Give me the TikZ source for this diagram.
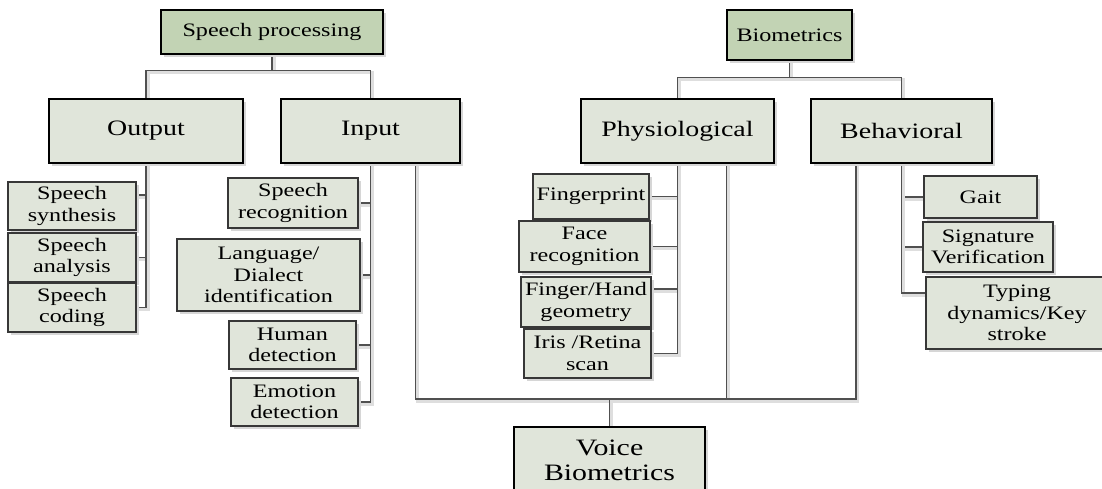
\documentclass[tikz,border=0pt]{standalone}
\usepackage{fontspec}
\setmainfont{Liberation Serif}[FakeStretch=1.27]
\usetikzlibrary{shadows,backgrounds,calc}
\definecolor{topfill}{RGB}{194,211,180}
\definecolor{boxfill}{RGB}{224,229,218}
\definecolor{linec}{RGB}{80,80,80}
\definecolor{edgec}{RGB}{55,55,55}
\tikzset{
  basebox/.style={rectangle, inner sep=0pt, align=center, fill=boxfill,
    drop shadow={shadow xshift=3pt, shadow yshift=-3pt, fill=black!16, opacity=1}},
  rootbox/.style={basebox, fill=topfill, draw=black, line width=1.6pt,
    font=\fontsize{19}{21.5}\selectfont},
  mainbox/.style={basebox, draw=black, line width=1.6pt,
    font=\fontsize{22}{25}\selectfont},
  leafbox/.style={basebox, draw=edgec, line width=1.1pt,
    font=\fontsize{19}{21.5}\selectfont},
  conn/.style={draw=linec, line width=1.3pt,
    preaction={draw=black!13, line width=3pt, transform canvas={shift={(2pt,-2pt)}}}},
  sz/.style 2 args={minimum width=#1pt, minimum height=#2pt}
}
\begin{document}
\begin{tikzpicture}[x=1pt,y=-1pt]
\useasboundingbox (0,0) rectangle (1102,488);
\clip (0,0) rectangle (1102,488);

% speech processing branch
\node[rootbox, sz={222}{44}] (sp) at (272,32) {Speech processing};
\node[mainbox, sz={194}{64}] (out) at (146,131) {Output};
\node[mainbox, sz={179}{64}] (inp) at (370.5,131) {Input};
\node[leafbox, sz={128}{48}] (syn) at (72,206) {Speech\\synthesis};
\node[leafbox, sz={128}{49}] (ana) at (72,257.5) {Speech\\analysis};
\node[leafbox, sz={128}{49}] (cod) at (72,307.5) {Speech\\coding};
\node[leafbox, sz={130}{50}] (rec) at (293,203) {Speech\\recognition};
\node[leafbox, sz={183}{72}] (lan) at (268.5,275) {Language/\\Dialect\\identification};
\node[leafbox, sz={127}{48}] (hum) at (292.5,345) {Human\\detection};
\node[leafbox, sz={127}{48}] (emo) at (294.5,402) {Emotion\\detection};

% biometrics branch
\node[rootbox, sz={125}{50}] (bio) at (789.5,35) {Biometrics};
\node[mainbox, sz={193}{64}] (phy) at (677.5,131) {Physiological};
\node[mainbox, sz={181}{64}] (beh) at (901.5,131) {Behavioral};
\node[leafbox, sz={116}{45}] (fin) at (591,196.5) {Fingerprint};
\node[leafbox, sz={131}{51}] (fac) at (584.5,246.5) {Face\\recognition};
\node[leafbox, sz={130}{50}] (fhg) at (586,302) {Finger/Hand\\geometry};
\node[leafbox, sz={127}{49}] (iri) at (587.5,353.5) {Iris /Retina\\scan};
\node[leafbox, sz={113}{42}] (gai) at (980.5,197) {Gait};
\node[leafbox, sz={130}{50}] (sig) at (988,247) {Signature\\Verification};
\node[leafbox, sz={182}{72}] (typ) at (1017,313) {Typing\\dynamics/Key\\stroke};

% common child
\node[mainbox, font=\fontsize{23.5}{25}\selectfont, sz={191}{67}] (voi) at (609.5,460.5) {Voice\\Biometrics};

\coordinate (hub) at (609.5,399);
\coordinate (inpv) at ($(inp.south west)!0.75!(inp.south east)$);
\coordinate (phyv) at ($(phy.south west)!0.75!(phy.south east)$);
\coordinate (behv) at ($(beh.south west)!0.25!(beh.south east)$);

\begin{scope}[on background layer]
  \draw[conn] (sp.south) -- ++(0,16) -| (out.north);
  \draw[conn] (sp.south) -- ++(0,16) -| (inp.north);
  \draw[conn] (bio.south) -- ++(0,17) -| (phy.north);
  \draw[conn] (bio.south) -- ++(0,17) -| (beh.north);

  \draw[conn] (out.south) |- ([yshift=11pt]syn.east);
  \draw[conn] (out.south) |- (ana.east);
  \draw[conn] (out.south) |- (cod.east);

  \draw[conn] (inp.south) |- (rec.east);
  \draw[conn] (inp.south) |- (lan.east);
  \draw[conn] (inp.south) |- (hum.east);
  \draw[conn] (inp.south) |- (emo.east);

  \draw[conn] (phy.south) |- (fin.east);
  \draw[conn] (phy.south) |- (fac.east);
  \draw[conn] (phy.south) |- ([yshift=13pt]fhg.east);
  \draw[conn] (phy.south) |- (iri.east);

  \draw[conn] (beh.south) |- (gai.west);
  \draw[conn] (beh.south) |- (sig.west);
  \draw[conn] (beh.south) |- ([yshift=20pt]typ.west);

  \draw[conn] (inpv) |- (hub);
  \draw[conn] (phyv) |- (hub);
  \draw[conn] (behv) |- (hub);
  \draw[conn] (hub) -- (voi.north);
\end{scope}
\end{tikzpicture}
\end{document}
